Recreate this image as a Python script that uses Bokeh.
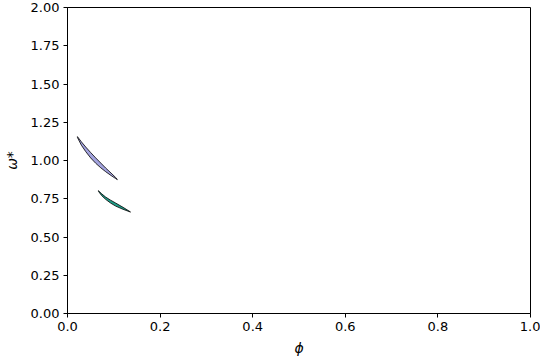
from bokeh.plotting import figure
from bokeh.models import Range1d, FixedTicker, NumeralTickFormatter
from bokeh.embed import file_html
from bokeh.resources import INLINE

# Region 1 (lavender): upper and lower edges
r1_x_upper = [0.0215, 0.030, 0.0394, 0.050, 0.0609, 0.072, 0.0824, 0.094, 0.1040, 0.1075]
r1_y_upper = [1.156, 1.122, 1.088, 1.052, 1.017, 0.983, 0.951, 0.918, 0.889, 0.877]
r1_x_lower = [0.0215, 0.030, 0.0394, 0.050, 0.0609, 0.072, 0.0824, 0.094, 0.1040, 0.1075]
r1_y_lower = [1.150, 1.100, 1.058, 1.017, 0.982, 0.952, 0.927, 0.902, 0.882, 0.875]

# Region 2 (teal)
r2_x_upper = [0.0667, 0.074, 0.0824, 0.093, 0.1040, 0.120, 0.1360]
r2_y_upper = [0.803, 0.782, 0.761, 0.741, 0.722, 0.694, 0.664]
r2_x_lower = [0.0667, 0.074, 0.0824, 0.093, 0.1040, 0.120, 0.1360]
r2_y_lower = [0.799, 0.770, 0.746, 0.722, 0.702, 0.681, 0.663]

x_ticks = [0.0, 0.2, 0.4, 0.6, 0.8, 1.0]
y_ticks = [0.0, 0.25, 0.5, 0.75, 1.0, 1.25, 1.5, 1.75, 2.0]

p = figure(width=540, height=360, output_backend="svg", toolbar_location=None,
           x_range=Range1d(0, 1), y_range=Range1d(0, 2),
           min_border_left=65, min_border_right=10, min_border_top=7, min_border_bottom=47)

p.patch(r1_x_upper + r1_x_lower[::-1], r1_y_upper + r1_y_lower[::-1],
        fill_color="#a3a3de", line_color="black", line_width=0.8)
p.patch(r2_x_upper + r2_x_lower[::-1], r2_y_upper + r2_y_lower[::-1],
        fill_color="#1f9e89", line_color="black", line_width=0.8)

p.xgrid.visible = False
p.ygrid.visible = False
p.outline_line_color = "black"
p.outline_line_width = 1
p.background_fill_color = "white"
p.border_fill_color = "white"

p.xaxis.ticker = FixedTicker(ticks=x_ticks)
p.yaxis.ticker = FixedTicker(ticks=y_ticks)
p.xaxis.formatter = NumeralTickFormatter(format="0.0")
p.yaxis.formatter = NumeralTickFormatter(format="0.00")

for ax in (p.xaxis[0], p.yaxis[0]):
    ax.major_tick_out = 4
    ax.major_tick_in = 0
    ax.minor_tick_out = 0
    ax.minor_tick_in = 0
    ax.axis_line_color = "black"
    ax.major_tick_line_color = "black"
    ax.major_label_text_font = "DejaVu Sans"
    ax.major_label_text_font_size = "13px"
    ax.major_label_text_color = "black"
    ax.axis_label_text_font = "DejaVu Sans"
    ax.axis_label_text_font_size = "14px"
    ax.axis_label_text_font_style = "italic"
    ax.axis_label_text_color = "black"

p.xaxis.axis_label = "ϕ"
p.yaxis.axis_label = "ω*"
p.xaxis.major_label_standoff = 4
p.yaxis.major_label_standoff = 4
p.xaxis.axis_label_standoff = 6
p.yaxis.axis_label_standoff = 8

open("out.html", "w").write(file_html(p, INLINE))
